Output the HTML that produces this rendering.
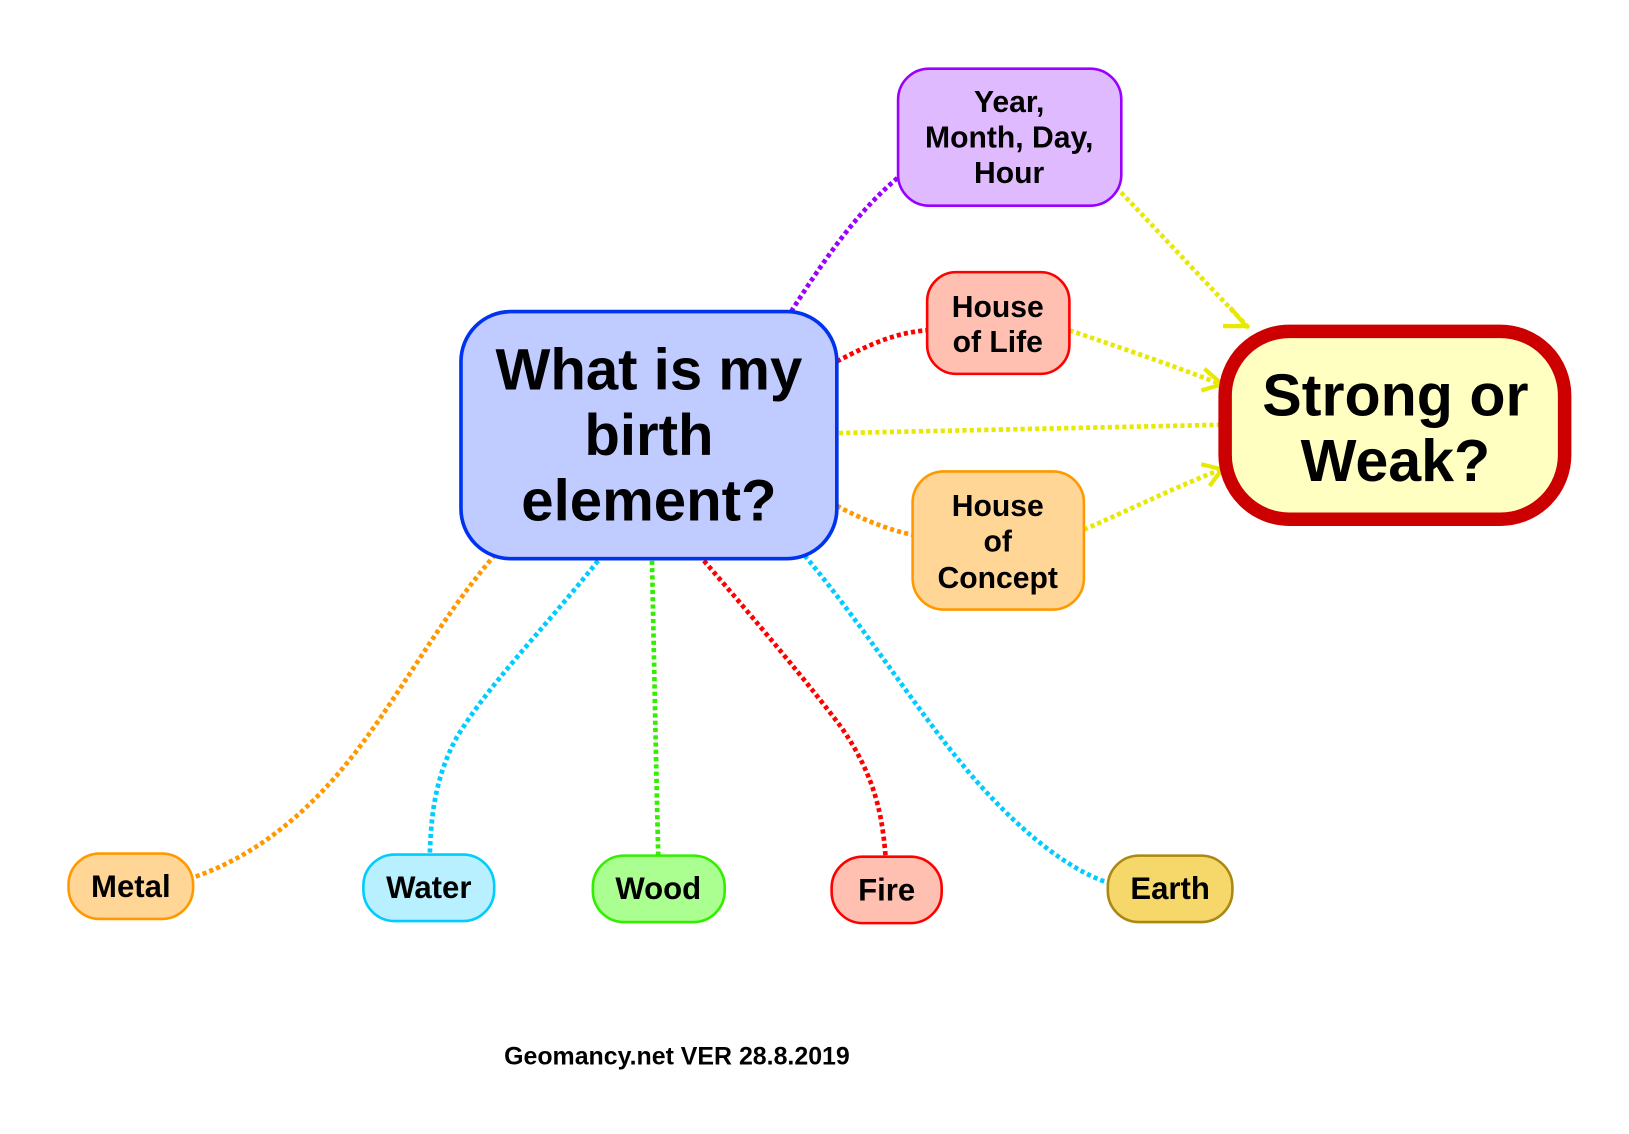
<!DOCTYPE html>
<html><head><meta charset="utf-8"><style>
html,body{margin:0;padding:0;background:#fff;}
svg{display:block;}
text{font-family:"Liberation Sans",Arial,sans-serif;font-weight:bold;fill:#000;text-anchor:middle;}
.c{fill:none;stroke-width:4.5;stroke-dasharray:4 3;}
</style></head><body>
<svg width="1629" height="1134" viewBox="0 0 1569 1092" xmlns="http://www.w3.org/2000/svg">
<path class="c" stroke="#9900ff" d="M762,300 C800,240 830,200 866,170"/>
<path class="c" stroke="#ff0000" d="M806,348 C840,330 865,320 893,318"/>
<path class="c" stroke="#e8e800" d="M808,417 L1178,409"/>
<path class="c" stroke="#ff9900" d="M806,487 C830,500 855,510 879,515"/>
<path class="c" stroke="#e8e800" d="M1075,180 L1203,316"/>
<path class="c" stroke="#e8e800" d="M1030,318 C1080,335 1130,352 1176,370"/>
<path class="c" stroke="#e8e800" d="M1044,510 C1090,490 1130,470 1176,452"/>
<path fill="none" stroke="#e8e800" stroke-width="4" d="M1185,296 L1200,314 L1178,314"/>
<path fill="none" stroke="#e8e800" stroke-width="4" d="M1160,355 L1177,370 L1157,376"/>
<path fill="none" stroke="#e8e800" stroke-width="4" d="M1157,447 L1177,452 L1165,468"/>
<path class="c" stroke="#ff9900" d="M477,534 C420,600 380,680 330,740 C280,800 230,830 186,845"/>
<path class="c" stroke="#00ccff" d="M576,540 C520,610 470,660 440,710 C418,750 415,790 414,823"/>
<path class="c" stroke="#33ee00" d="M628,540 C630,640 632,740 634,824"/>
<path class="c" stroke="#ff0000" d="M678,540 C730,600 780,660 810,700 C845,750 850,790 853,825"/>
<path class="c" stroke="#00ccff" d="M775,535 C830,600 880,680 930,740 C980,800 1030,838 1067,850"/>
<rect x="444" y="300" width="362" height="238" rx="48" fill="#c0cbff" stroke="#0033ee" stroke-width="3.5"/>
<text font-size="56"><tspan x="625" y="375">What is my</tspan><tspan x="625" y="438">birth</tspan><tspan x="625" y="501">element?</tspan></text>
<rect x="865" y="66" width="215" height="132" rx="30" fill="#e0baff" stroke="#9900ff" stroke-width="2.5"/>
<text font-size="29"><tspan x="972" y="108">Year,</tspan><tspan x="972" y="142">Month, Day,</tspan><tspan x="972" y="176">Hour</tspan></text>
<rect x="893" y="262" width="137" height="98" rx="28" fill="#ffc0b2" stroke="#ff0000" stroke-width="2.5"/>
<text font-size="29"><tspan x="961" y="305">House</tspan><tspan x="961" y="339">of Life</tspan></text>
<rect x="879" y="454" width="165" height="133" rx="30" fill="#ffd696" stroke="#ff9900" stroke-width="2.5"/>
<text font-size="29"><tspan x="961" y="497">House</tspan><tspan x="961" y="531">of</tspan><tspan x="961" y="566">Concept</tspan></text>
<rect x="1180" y="319" width="327" height="181" rx="62" fill="#ffffc2" stroke="#cc0000" stroke-width="13"/>
<text font-size="57"><tspan x="1344" y="400">Strong or</tspan><tspan x="1344" y="463">Weak?</tspan></text>
<rect x="66" y="822" width="120" height="63" rx="30" fill="#ffd696" stroke="#ff9900" stroke-width="2.5"/>
<text font-size="30" x="126" y="864">Metal</text>
<rect x="350" y="823" width="126" height="64" rx="30" fill="#b8f0ff" stroke="#00ccff" stroke-width="2.5"/>
<text font-size="30" x="413" y="865">Water</text>
<rect x="571" y="824" width="127" height="64" rx="30" fill="#aaff90" stroke="#33ee00" stroke-width="2.5"/>
<text font-size="30" x="634" y="866">Wood</text>
<rect x="801" y="825" width="106" height="64" rx="30" fill="#ffc0b2" stroke="#ff0000" stroke-width="2.5"/>
<text font-size="30" x="854" y="867">Fire</text>
<rect x="1067" y="824" width="120" height="64" rx="30" fill="#f5d76a" stroke="#aa8811" stroke-width="2.5"/>
<text font-size="30" x="1127" y="866">Earth</text>
<text font-size="24" x="652" y="1025">Geomancy.net VER 28.8.2019</text>
</svg>
</body></html>
